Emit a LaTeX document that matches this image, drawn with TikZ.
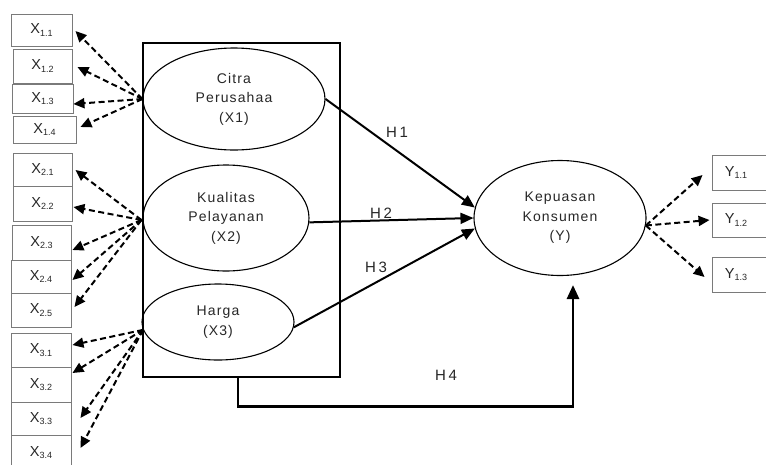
\documentclass[tikz,border=0pt]{standalone}
\usepackage{fontspec}
\setmainfont{Liberation Sans}
\newfontfamily\lsp[LetterSpace=8]{Liberation Sans}
\newfontfamily\hsp[LetterSpace=18]{Liberation Sans}
\usetikzlibrary{arrows.meta,shapes.geometric,calc}
\definecolor{txt}{HTML}{262626}
\definecolor{bord}{HTML}{7A7A7A}
\newcommand{\ind}[2]{#1{\fontsize{9}{9}\selectfont\raisebox{-2.4pt}{#2}}}
\tikzset{
  indbox/.style={draw=bord, line width=0.9pt, inner sep=0pt, text=txt, font=\fontsize{14.5}{16}\selectfont},
  latent/.style={ellipse, draw=black, line width=1.1pt, inner sep=0pt, align=center, text=txt, font=\lsp\fontsize{14}{19.5}\selectfont},
  dasharrow/.style={dash pattern=on 6pt off 3.5pt, line width=2pt, -{Triangle[length=11pt,width=10pt]}},
  patharrow/.style={line width=2pt, -{Triangle[length=13pt,width=11pt]}},
  hlab/.style={text=txt, font=\hsp\fontsize{15}{15}\selectfont, inner sep=0pt}
}
\begin{document}
\begin{tikzpicture}[x=1pt,y=-1pt]
\useasboundingbox (0,0) rectangle (766,464);
% frame
\node[draw=black, line width=2.2pt, minimum width=197pt, minimum height=334pt, inner sep=0pt] (frame) at (241.5,210) {};
% latent variables
\node[latent, minimum width=182pt, minimum height=102pt] (x1) at (234,99) {Citra\\Perusahaa\\(X1)};
\node[latent, minimum width=166pt, minimum height=106pt] (x2) at (226,218) {Kualitas\\Pelayanan\\(X2)};
\node[latent, minimum width=152pt, minimum height=76pt] (x3) at (218,322) {Harga\\(X3)};
\node[latent, minimum width=172pt, minimum height=115pt] (y) at (560,218) {Kepuasan\\Konsumen\\(Y)};
% indicator boxes X1
\node[indbox, minimum width=61pt, minimum height=32pt] (b11) at (41.5,30) {\ind{X}{1.1}};
\node[indbox, minimum width=59pt, minimum height=34pt] (b12) at (42.5,66) {\ind{X}{1.2}};
\node[indbox, minimum width=61pt, minimum height=29pt] (b13) at (42.5,98.5) {\ind{X}{1.3}};
\node[indbox, minimum width=63pt, minimum height=27pt] (b14) at (44.5,129.5) {\ind{X}{1.4}};
% X2
\node[indbox, minimum width=59pt, minimum height=33pt] (b21) at (42.5,169.5) {\ind{X}{2.1}};
\node[indbox, minimum width=59pt, minimum height=35pt] (b22) at (42.5,203.5) {\ind{X}{2.2}};
\node[indbox, minimum width=59pt, minimum height=35pt] (b23) at (41.5,242.5) {\ind{X}{2.3}};
\node[indbox, minimum width=60pt, minimum height=33pt] (b24) at (41,276.5) {\ind{X}{2.4}};
\node[indbox, minimum width=60pt, minimum height=34pt] (b25) at (41,310) {\ind{X}{2.5}};
% X3
\node[indbox, minimum width=60pt, minimum height=34pt] (b31) at (41,350) {\ind{X}{3.1}};
\node[indbox, minimum width=60pt, minimum height=35pt] (b32) at (41,384.5) {\ind{X}{3.2}};
\node[indbox, minimum width=60pt, minimum height=33pt] (b33) at (41,418.5) {\ind{X}{3.3}};
\node[indbox, minimum width=60pt, minimum height=35pt] (b34) at (41,452.5) {\ind{X}{3.4}};
% Y
\node[indbox, minimum width=56pt, minimum height=35pt] (c1) at (740,172.5) {\hspace*{-8pt}\ind{Y}{1.1}};
\node[indbox, minimum width=56pt, minimum height=34pt] (c2) at (740,220) {\hspace*{-8pt}\ind{Y}{1.2}};
\node[indbox, minimum width=56pt, minimum height=35pt] (c3) at (740,274.5) {\hspace*{-8pt}\ind{Y}{1.3}};
% dashed arrows X1
\coordinate (o1) at (x1.west);
\draw[dasharrow] (o1) -- ($(b11.east)+(3,1)$);
\draw[dasharrow] (o1) -- ($(b12.east)+(5,1)$);
\draw[dasharrow] (o1) -- ($(b13.east)+(0,5.5)$);
\draw[dasharrow] (o1) -- ($(b14.east)+(4,-2.5)$);
% X2
\coordinate (o2) at ($(x2.west)+(-1,2)$);
\draw[dasharrow] (o2) -- ($(b21.east)+(3,0.5)$);
\draw[dasharrow] (o2) -- ($(b22.east)+(1,3.5)$);
\draw[dasharrow] (o2) -- ($(b23.east)+(1,7.5)$);
\draw[dasharrow] (o2) -- ($(b24.east)+(1,3.5)$);
\draw[dasharrow] (o2) -- ($(b25.east)+(3,-3)$);
% X3
\coordinate (o3) at (x3.186);
\draw[dasharrow] (o3) -- ($(b31.east)+(1,-5)$);
\draw[dasharrow] (o3) -- ($(b32.east)+(1,-11.5)$);
\draw[dasharrow] (o3) -- ($(b33.east)+(9,-0.5)$);
\draw[dasharrow] (o3) -- ($(b34.east)+(9,-4.5)$);
% Y
\coordinate (oy) at (y.-5);
\draw[dasharrow] (oy) -- ($(c1.west)+(-9,2.5)$);
\draw[dasharrow] (oy) -- ($(c2.west)+(-2,0)$);
\draw[dasharrow] (oy) -- ($(c3.west)+(-7,2.5)$);
% structural paths
\draw[patharrow] (x1.east) -- (y.173);
\draw[patharrow] (x2.-3) -- (y.180);
\draw[patharrow] (x3.-4) -- (y.187);
\coordinate (h4end) at (573,285);
\draw[line width=2.8pt, -{Triangle[length=14pt,width=12pt]}] ($(frame.south)+(-3.5,0)$) -- ++(0,28) -| (h4end);
% labels
\node[hlab] (h1) at (397,132) {H1};
\node[hlab] (h2) at (381,213) {H2};
\node[hlab] (h3) at (376,267) {H3};
\node[hlab] (h4) at (446,375) {H4};
\end{tikzpicture}
\end{document}
